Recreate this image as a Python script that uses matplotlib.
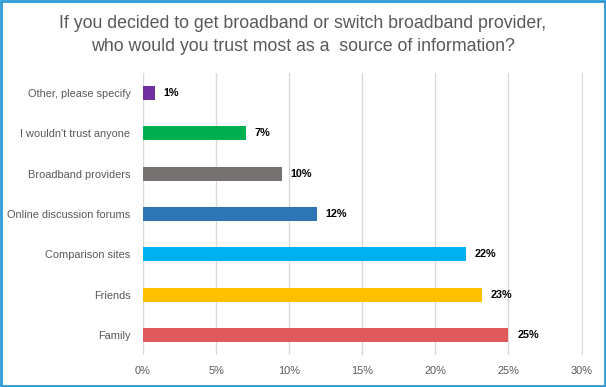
import matplotlib.pyplot as plt
from matplotlib.patches import Rectangle

categories = ["Family", "Friends", "Comparison sites", "Online discussion forums",
              "Broadband providers", "I wouldn't trust anyone", "Other, please specify"]
values = [25.0, 23.2, 22.1, 11.9, 9.5, 7.05, 0.8]
labels = ["25%", "23%", "22%", "12%", "10%", "7%", "1%"]
colors = ["#E05A5C", "#FFC000", "#00B0F0", "#2E75B6", "#767171", "#00B050", "#7030A0"]
xticks = [0, 5, 10, 15, 20, 25, 30]

plt.rcParams['font.family'] = ['Liberation Sans', 'DejaVu Sans']

fig = plt.figure(figsize=(6.06, 3.87), dpi=100)
ax = fig.add_axes([143 / 606, 32 / 387, 440 / 606, 282 / 387])

y = range(len(categories))
ax.barh(y, values, height=0.35, color=colors, zorder=3)
for i, (v, lab) in enumerate(zip(values, labels)):
    ax.text(v + 0.6, i, lab, va='center', ha='left', fontsize=7.8,
            fontweight='bold', color='#000000')

ax.set_xlim(0, 30.1)
ax.set_ylim(-0.5, len(categories) - 0.5)
ax.set_xticks(xticks)
ax.set_xticklabels([f"{t}%" for t in xticks])
ax.set_yticks(list(y))
ax.set_yticklabels(categories)
ax.tick_params(axis='both', length=0, labelsize=7.9, labelcolor='#595959')
ax.tick_params(axis='y', pad=9)
ax.tick_params(axis='x', pad=8)
ax.grid(axis='x', color='#D9D9D9', linewidth=1, zorder=0)
for s in ax.spines.values():
    s.set_visible(False)

fig.text(0.5, 1 - 35 / 387,
         "If you decided to get broadband or switch broadband provider,\n"
         "who would you trust most as a  source of information?",
         ha='center', va='center', fontsize=12.8, color='#595959', linespacing=1.45)

fig.patches.append(Rectangle((0.002, 0.003), 0.996, 0.994, transform=fig.transFigure,
                             fill=False, edgecolor='#2E9BD6', linewidth=2))

fig.savefig("out.png", dpi=100)
